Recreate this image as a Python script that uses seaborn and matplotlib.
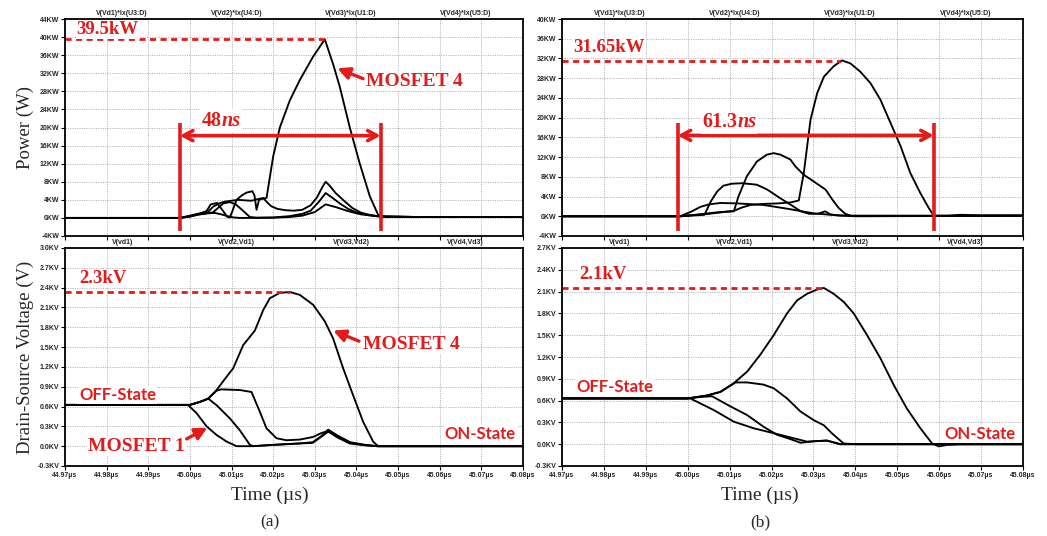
import matplotlib
matplotlib.use("Agg")
import matplotlib.pyplot as plt
import seaborn as sns

sns.set_theme(style="white")
plt.rcParams['font.family'] = ['Liberation Sans', 'DejaVu Sans']

RED = '#e31b1b'
SERIF = 'Liberation Serif'
CAL = 'Lato'

# ---------------- data (time offsets in ns relative to 45.000 us) ----------------
x_ticks = [44.97, 44.98, 44.99, 45.00, 45.01, 45.02, 45.03, 45.04, 45.05, 45.06, 45.07, 45.08]
pa_yticks = [-4, 0, 4, 8, 12, 16, 20, 24, 28, 32, 36, 40, 44]
pb_yticks = [-4, 0, 4, 8, 12, 16, 20, 24, 28, 32, 36, 40]
va_yticks = [-0.3, 0.0, 0.3, 0.6, 0.9, 1.2, 1.5, 1.8, 2.1, 2.4, 2.7, 3.0]
vb_yticks = [-0.3, 0.0, 0.3, 0.6, 0.9, 1.2, 1.5, 1.8, 2.1, 2.4, 2.7]
power_titles = ['V(Vd1)*Ix(U3:D)', 'V(Vd2)*Ix(U4:D)', 'V(Vd3)*Ix(U1:D)', 'V(Vd4)*Ix(U5:D)']
volt_titles = ['V(vd1)', 'V(Vd2,Vd1)', 'V(Vd3,Vd2)', 'V(Vd4,Vd3)']

# (a) power, kW
pa4_t = [-30, -2.4, 0, 2, 4, 5, 6.5, 8, 9, 9.6, 10.2, 11.2, 12.5, 13.6, 15, 15.5, 16, 16.6, 17.6, 18.4,
         20, 21.6, 24, 26.4, 29.6, 32.4, 34.4, 36, 38.4, 40.8, 43.2, 45.2, 46.5, 55, 80]
pa4_v = [0, 0, 0.5, 0.9, 1.5, 3.0, 3.3, 1.5, 0.2, 0.1, 1.5, 4.0, 5.0, 5.6, 5.9, 5.0, 1.8, 4.0, 4.3, 4.4,
         13.6, 20, 26, 30.5, 35.7, 39.5, 34, 29, 20, 12, 4.8, 0.7, 0.3, 0.2, 0.2]
pa3_t = [-30, -2.4, 0, 2, 4, 5.6, 7, 8.4, 10, 11.6, 13, 14.8, 16.5, 17.6, 18.5, 19.5, 21, 23, 25, 27,
         29, 30.5, 31.8, 32.6, 33.5, 35, 37, 39, 41, 43, 45, 46.5, 55, 80]
pa3_v = [0, 0, 0.3, 0.7, 1.0, 2.5, 3.2, 3.6, 3.8, 4.0, 3.9, 3.8, 4.2, 4.4, 3.5, 2.6, 2.0, 1.7, 1.6, 1.8,
         2.8, 4.5, 6.8, 8.0, 7.2, 5.5, 3.8, 2.2, 1.2, 0.7, 0.4, 0.3, 0.2, 0.2]
pa2_t = [-30, -2.4, 0, 2, 4, 5.5, 6.5, 8, 9.6, 11, 12.5, 14.4, 16, 20, 24, 27, 29, 31, 32.6, 34, 36,
         38, 40, 43, 45, 46.5, 55, 80]
pa2_v = [0, 0, 0.4, 0.9, 1.1, 1.2, 2.0, 3.2, 3.5, 3.0, 1.8, 0.2, 0.05, 0.1, 0.4, 0.9, 1.6, 3.6, 5.5,
         4.6, 3.2, 2.0, 1.2, 0.6, 0.4, 0.3, 0.2, 0.2]
pa1_t = [-30, -2.4, 0, 2, 4, 6, 7.5, 9, 10.5, 12, 14, 20, 24, 27, 30, 32.6, 35, 38, 41, 45, 46.5, 55, 80]
pa1_v = [0, 0, 0.3, 0.8, 1.0, 1.1, 0.8, 0.4, 0.1, 0, 0, 0.05, 0.2, 0.5, 1.3, 3.0, 2.4, 1.5, 0.8, 0.35,
         0.3, 0.2, 0.2]

# (a) drain-source voltage, kV
va4_t = [-30, 0, 2.4, 4.4, 6.4, 8.8, 10.4, 12.8, 15.6, 17.6, 19.2, 21.6, 24, 26.4, 29.6, 32.4, 34.4,
         36.8, 39.2, 41.6, 44, 45.2, 47, 80]
va4_v = [0.625, 0.625, 0.67, 0.72, 0.85, 1.05, 1.18, 1.53, 1.75, 2.06, 2.24, 2.32, 2.335, 2.29, 2.14,
         1.89, 1.63, 1.18, 0.77, 0.37, 0.07, 0.0, 0.0, 0.0]
va3_t = [-30, 0, 2.4, 4.4, 6.4, 7.5, 12, 14.8, 16.8, 18.4, 20.8, 23.2, 26.4, 29.6, 31.6, 33.2, 35.2,
         38.4, 42.4, 45, 80]
va3_v = [0.625, 0.625, 0.67, 0.72, 0.84, 0.86, 0.85, 0.82, 0.52, 0.27, 0.12, 0.09, 0.1, 0.14, 0.2,
         0.23, 0.14, 0.04, 0.01, 0, 0]
va2_t = [-30, 0, 2.4, 4.4, 6.4, 9.6, 12, 14.4, 15.2, 20, 26, 29.5, 31.5, 33.2, 35.5, 38.5, 42, 45, 80]
va2_v = [0.625, 0.625, 0.67, 0.72, 0.62, 0.42, 0.24, 0.02, 0.0, 0.02, 0.04, 0.06, 0.15, 0.25, 0.16,
         0.06, 0.02, 0, 0]
va1_t = [-30, -0.5, 1.6, 4, 6.4, 8.8, 11.2, 15, 20, 26, 29.5, 31.5, 33.2, 35.5, 38.5, 42, 45, 80]
va1_v = [0.625, 0.625, 0.5, 0.3, 0.17, 0.07, 0.0, 0.0, 0.02, 0.04, 0.05, 0.14, 0.22, 0.14, 0.05, 0.02,
         0, 0]

# (b) power, kW
pb4_t = [-30, -1.8, 3, 7, 10, 11, 13, 15, 18, 21.3, 24.5, 26.5, 27.7, 29.3, 30.9, 32.5, 34.8, 36.8,
         38.8, 41.2, 43.6, 46, 48.4, 50.8, 53.1, 55.5, 57.5, 58.7, 62, 65, 70, 80]
pb4_v = [0, 0, 0.4, 0.8, 1.0, 1.1, 1.8, 2.3, 2.5, 2.6, 2.8, 3.2, 8.8, 19.6, 25, 28.3, 30.4, 31.6,
         31.0, 29.3, 27, 23.6, 18.9, 14.2, 8.8, 4.7, 1.7, 0.1, 0.1, 0.3, 0.2, 0.2]
pb3_t = [-30, -1.8, 5, 9, 11, 12.1, 14.1, 16.5, 18.9, 20.5, 22.1, 24.5, 25.7, 27.7, 30, 31.7, 32.9,
         34.5, 36, 37.6, 39, 80]
pb3_v = [0, 0, 0.5, 0.9, 1.0, 4.0, 8.1, 11.1, 12.5, 12.8, 12.5, 11.5, 10.1, 8.4, 7.1, 6.1, 5.4, 3.4,
         1.7, 0.5, 0.1, 0.1]
pb2_t = [-30, -1.8, 2, 4, 5.5, 7, 8.5, 10.5, 13, 16.5, 19, 22, 25, 27, 29, 31, 32.8, 34, 36, 40, 80]
pb2_v = [0, 0, 0.2, 0.3, 3.0, 5.0, 6.2, 6.6, 6.7, 6.4, 5.4, 3.7, 2.1, 1.0, 0.5, 0.5, 1.0, 0.4, 0.15,
         0.1, 0.1]
pb1_t = [-30, -1.8, 1, 3, 5, 7.8, 12, 18, 24, 30, 34, 38, 40, 80]
pb1_v = [0, 0, 1.0, 1.9, 2.4, 2.7, 2.6, 2.3, 1.5, 0.6, 0.3, 0.1, 0, 0.1]

# (b) drain-source voltage, kV
vb4_t = [-30, 0, 4.6, 7.8, 11, 14.2, 17.3, 20.5, 23.7, 26.1, 28.5, 30.9, 32.5, 34.8, 37.2, 39.6, 42.8,
         46, 49.2, 52.3, 55.5, 58.3, 59.9, 61.9, 65, 80]
vb4_v = [0.63, 0.63, 0.67, 0.72, 0.84, 1.0, 1.23, 1.5, 1.8, 1.98, 2.07, 2.13, 2.15, 2.07, 1.96, 1.8,
         1.5, 1.18, 0.81, 0.49, 0.22, 0.01, -0.03, -0.01, 0, 0]
vb3_t = [-30, 0, 4.6, 7.8, 11.4, 14.2, 18.1, 20.5, 23.7, 26.9, 30.1, 32.5, 34.4, 37.2, 40, 80]
vb3_v = [0.63, 0.63, 0.67, 0.72, 0.85, 0.85, 0.82, 0.77, 0.63, 0.45, 0.33, 0.26, 0.15, 0.01, 0, 0]
vb2_t = [-30, 0, 3, 5.8, 10.2, 14.2, 18.1, 21.3, 24.5, 26.9, 30, 33.2, 36.4, 80]
vb2_v = [0.63, 0.63, 0.65, 0.66, 0.52, 0.40, 0.24, 0.13, 0.07, 0.02, 0.04, 0.05, 0, 0]
vb1_t = [-30, 0.6, 6.2, 11, 15.7, 21.3, 26.1, 28.5, 30, 33.2, 36.4, 80]
vb1_v = [0.63, 0.63, 0.47, 0.31, 0.22, 0.14, 0.07, 0.035, 0.04, 0.05, 0, 0]


def T(ns):
    return 45.0 + ns / 1000.0


def us(ts):
    return [T(v) for v in ts]


# ---------------- figure ----------------
W, H = 1047, 536
fig = plt.figure(figsize=(W / 100, H / 100), dpi=100)
fig.patch.set_facecolor('white')


def add_ax(l, t, r, b):
    return fig.add_axes([l / W, 1 - b / H, (r - l) / W, (b - t) / H])


ax_pa = add_ax(65, 19, 523, 236)
ax_va = add_ax(65, 248, 523, 466)
ax_pb = add_ax(562, 19, 1023, 236)
ax_vb = add_ax(562, 248, 1023, 466)


def style(ax, yticks, ylabels, titles, show_x):
    ax.set_facecolor('white')
    ax.set_xlim(x_ticks[0], x_ticks[-1])
    ax.set_ylim(yticks[0], yticks[-1])
    ax.set_yticks(yticks, labels=ylabels, fontsize=5, fontweight='bold')
    if show_x:
        ax.set_xticks(x_ticks, labels=[f"{v:.2f}µs" for v in x_ticks], fontsize=5, fontweight='bold')
    else:
        ax.set_xticks(x_ticks, labels=[])
    ax.grid(True, color='#b8b8b8', linestyle=(0, (1.2, 1.2)), linewidth=0.7)
    for s in ax.spines.values():
        s.set_color('black')
        s.set_linewidth(1.3)
    ax.tick_params(direction='out', length=3, width=0.8, color='black', pad=1,
                   bottom=True, left=True)
    for i, s in enumerate(titles):
        ax.text(0.125 + 0.25 * i, 1.008, s, transform=ax.transAxes, ha='center', va='bottom',
                fontsize=5, fontweight='bold')


style(ax_pa, pa_yticks, [f"{v}KW" for v in pa_yticks], power_titles, False)
style(ax_pb, pb_yticks, [f"{v}KW" for v in pb_yticks], power_titles, False)
style(ax_va, va_yticks, [f"{v:.1f}KV" for v in va_yticks], volt_titles, True)
style(ax_vb, vb_yticks, [f"{v:.1f}KV" for v in vb_yticks], volt_titles, True)

LW = 1.35
for ax, curves in [
    (ax_pa, [(pa1_t, pa1_v), (pa2_t, pa2_v), (pa3_t, pa3_v), (pa4_t, pa4_v)]),
    (ax_va, [(va1_t, va1_v), (va2_t, va2_v), (va3_t, va3_v), (va4_t, va4_v)]),
    (ax_pb, [(pb1_t, pb1_v), (pb2_t, pb2_v), (pb3_t, pb3_v), (pb4_t, pb4_v)]),
    (ax_vb, [(vb1_t, vb1_v), (vb2_t, vb2_v), (vb3_t, vb3_v), (vb4_t, vb4_v)]),
]:
    for t, v in curves:
        sns.lineplot(x=us(t), y=v, ax=ax, color='black', linewidth=LW, sort=False,
                     estimator=None, legend=False)
    ax.set_xlim(x_ticks[0], x_ticks[-1])

# axis labels
ax_pa.set_ylabel('Power (W)', fontfamily=SERIF, fontsize=13.5, va='center')
ax_pa.yaxis.set_label_coords(-0.087, 0.5)
ax_va.set_ylabel('Drain-Source Voltage (V)', fontfamily=SERIF, fontsize=13.5, va='center')
ax_va.yaxis.set_label_coords(-0.087, 0.5)
for ax, xc, lab in [(ax_va, 0.448, '(a)'), (ax_vb, 0.43, '(b)')]:
    ax.set_xlabel('Time (µs)', fontfamily=SERIF, fontsize=14, va='center')
    ax.xaxis.set_label_coords(xc, -0.133)
    ax.text(xc, -0.257, lab, transform=ax.transAxes, ha='center', va='center',
            fontfamily=SERIF, fontsize=12.5)

box = dict(facecolor='white', edgecolor='none', pad=0.8)


def peak(ax, y, t_end, label, t_lab, y_lab):
    ax.plot([x_ticks[0], T(t_end)], [y, y], color=RED, lw=2.0, linestyle=(0, (2.2, 1.6)))
    ax.text(T(t_lab), y_lab, label, color=RED, fontfamily=SERIF, fontweight='bold', fontsize=13.5,
            ha='left', va='center', bbox=box)


def span(ax, t0, t1, y_bot, y_top, y_arrow, num, t_lab, y_lab):
    for t in (t0, t1):
        ax.plot([T(t), T(t)], [y_bot, y_top], color=RED, lw=2.6, solid_capstyle='butt')
    ax.annotate('', xy=(T(t1), y_arrow), xytext=(T(t0), y_arrow),
                arrowprops=dict(arrowstyle='<->,head_length=0.55,head_width=0.3', color=RED,
                                lw=2.6, shrinkA=0, shrinkB=0))
    a = ax.text(T(t_lab), y_lab, num, color=RED, fontfamily=SERIF, fontweight='bold',
                fontsize=14.5, ha='left', va='bottom', bbox=box)
    ax.annotate('ns', xy=(1, 0), xycoords=a, color=RED, fontfamily=SERIF, fontweight='bold',
                fontstyle='italic', fontsize=14.5, ha='left', va='bottom', bbox=box)


def pointer(ax, text, t_txt, y_txt, t_tail, y_tail, t_head, y_head):
    ax.text(T(t_txt), y_txt, text, color=RED, fontfamily=SERIF, fontweight='bold', fontsize=14,
            ha='left', va='center', bbox=box)
    ax.annotate('', xy=(T(t_head), y_head), xytext=(T(t_tail), y_tail),
                arrowprops=dict(arrowstyle='-|>,head_length=0.6,head_width=0.3', color=RED,
                                lw=2.4, shrinkA=0, shrinkB=0))


def state(ax, text, t_txt, y_txt):
    ax.text(T(t_txt), y_txt, text, color=RED, fontfamily=CAL, fontweight='bold', fontsize=12,
            ha='left', va='center', bbox=box)


# (a) power
peak(ax_pa, 39.5, 32.4, '39.5kW', -27.2, 41.7)
span(ax_pa, -2.4, 45.8, -2.9, 21.0, 18.2, '48', 2.8, 19.3)
pointer(ax_pa, 'MOSFET 4', 42.4, 30.2, 41.6, 30.8, 35.4, 33.1)
# (b) power
peak(ax_pb, 31.5, 36.4, '31.65kW', -27.3, 34.2)
span(ax_pb, -2.4, 58.7, -2.9, 18.9, 16.4, '61.3', 3.4, 17.0)
# (a) voltage
peak(ax_va, 2.33, 24.0, '2.3kV', -26.6, 2.54)
pointer(ax_va, 'MOSFET 4', 41.6, 1.54, 40.6, 1.59, 34.4, 1.75)
pointer(ax_va, 'MOSFET 1', -24.4, 0.0, -0.8, 0.11, 4.2, 0.28)
state(ax_va, 'OFF-State', -26.6, 0.78)
state(ax_va, 'ON-State', 61.2, 0.18)
# (b) voltage
peak(ax_vb, 2.15, 32.5, '2.1kV', -26.0, 2.33)
state(ax_vb, 'OFF-State', -26.6, 0.79)
state(ax_vb, 'ON-State', 61.3, 0.14)

fig.savefig('out.png', dpi=100, facecolor='white')
